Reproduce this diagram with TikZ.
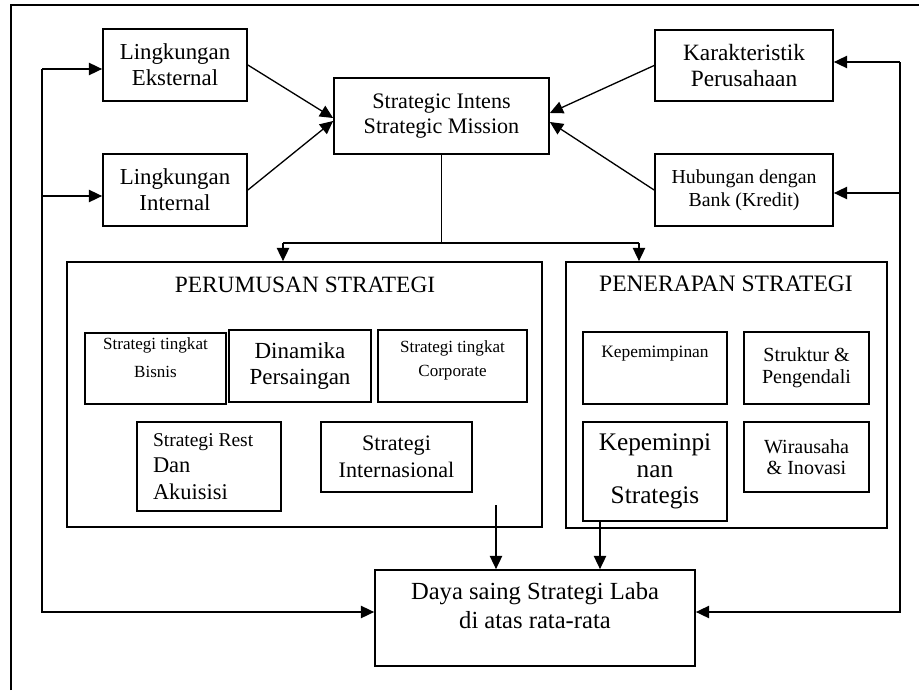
\documentclass[tikz,border=0pt]{standalone}
\usepackage{fontspec}
\setmainfont{Liberation Serif}
\usetikzlibrary{arrows.meta, positioning, calc}

\newcommand{\pxu}{0.02cm}
\newcommand{\fsz}[2]{\fontsize{#1}{#2}\selectfont}
\tikzset{
  box/.style={draw, line width=1pt, inner sep=2pt, align=center},
  link/.style={line width=0.75pt},
  arr/.style={link, -{Triangle[length=7.5pt, width=7pt]}},
}

\begin{document}
\begin{tikzpicture}[x=0.02cm, y=-0.02cm]
\useasboundingbox (0,0) rectangle (919,690);
% frame
\draw[line width=1pt] (11,690) -- (11,5) -- (919,5);

% sources
\node[box, minimum width=144*\pxu, minimum height=72*\pxu, font={\fsz{13}{14.7}}] (eks) at (175,65) {Lingkungan\\Eksternal};
\node[box, minimum width=144*\pxu, minimum height=72*\pxu, font={\fsz{13}{14.7}}] (int) at (175,190) {Lingkungan\\Internal};
\node[box, minimum width=215*\pxu, minimum height=76*\pxu, font={\fsz{12.6}{14.2}}] (strat) at (441.5,116) {Strategic Intens\\Strategic Mission};
\node[box, minimum width=178*\pxu, minimum height=71*\pxu, font={\fsz{13.3}{15.3}}] (kar) at (744,65.5) {Karakteristik\\Perusahaan};
\node[box, minimum width=178*\pxu, minimum height=72*\pxu, font={\fsz{11.3}{13}}] (hub) at (744,190) {Hubungan dengan\\Bank (Kredit)};

% perumusan
\node[box, minimum width=475*\pxu, minimum height=265*\pxu] (rumus) at (304.5,394.5) {};
\node[font={\fsz{13.3}{15}}] (rumusT) at (305,285) {PERUMUSAN STRATEGI};
\node[box, minimum width=141*\pxu, minimum height=71*\pxu, font={\fsz{9.7}{15.5}}] (bisnis) at (155.5,368.5) {Strategi tingkat\\Bisnis\\[-3pt]\mbox{}};
\node[box, minimum width=142*\pxu, minimum height=72*\pxu, font={\fsz{13.1}{14.7}}] (dinamika) at (300,366) {Dinamika\\Persaingan};
\node[box, minimum width=149*\pxu, minimum height=72*\pxu, font={\fsz{9.7}{13.6}}] (corp) at (452.5,366) {Strategi tingkat\\Corporate\\[-5pt]\mbox{}};
\node[box, minimum width=144*\pxu, minimum height=89*\pxu, text width=112*\pxu, align=flush left, font={\fsz{12.8}{15}}] (rest) at (209,466.5) {{\fsz{11.1}{15}Strategi Rest}\\Dan\\Akuisisi};
\node[box, minimum width=151*\pxu, minimum height=70*\pxu, font={\fsz{12.6}{15.3}}] (intl) at (396.5,457) {Strategi\\Internasional};

% penerapan
\node[box, minimum width=321*\pxu, minimum height=266*\pxu] (terap) at (726.5,395) {};
\node[font={\fsz{13.4}{15}}] (terapT) at (726,284) {PENERAPAN STRATEGI};
\node[box, minimum width=144*\pxu, minimum height=72*\pxu, font={\fsz{9.9}{13}}] (pimpin) at (655,368) {Kepemimpinan\\[5pt]\mbox{}};
\node[box, minimum width=125*\pxu, minimum height=72*\pxu, font={\fsz{11.4}{12.3}}] (struk) at (806.5,368) {Struktur \&\\Pengendali};
\node[box, minimum width=144*\pxu, minimum height=99*\pxu, font={\fsz{14.4}{15}}] (pimpinS) at (655,471.5) {Kepeminpi\\nan\\Strategis};
\node[box, minimum width=125*\pxu, minimum height=70*\pxu, font={\fsz{11.4}{12}}] (wira) at (806.5,457) {Wirausaha\\\& Inovasi};

% result
\node[box, minimum width=320*\pxu, minimum height=96*\pxu, font={\fsz{14}{16.4}}] (daya) at (535,618) {Daya saing Strategi Laba\\di atas rata-rata\\[-2.4pt]\mbox{}};

% inputs to mission
\draw[arr] (eks.east) -- ($(strat.west)+(0,2)$);
\draw[arr] (int.east) -- ($(strat.west)+(0,5)$);
\draw[arr] (kar.west) -- ($(strat.east)+(0,-3)$);
\draw[arr] (hub.west) -- ($(strat.east)+(0,6)$);

% split
\coordinate (inR) at (283,243);
\coordinate (inT) at (639,243);
\draw[link] (strat.south) -- (strat.south |- inR);
\draw[link] (inR) -- (inT);
\draw[arr] (inR) -- (inR |- rumus.north);
\draw[arr] (inT) -- (inT |- terap.north);

% to result
\coordinate (outR) at (496,505);
\coordinate (outT) at ($(pimpinS.south)+(-55,0)$);
\draw[arr] (outR) -- (outR |- daya.north);
\draw[arr] (outT) -- (outT |- daya.north);

% feedback
\coordinate (fbL) at (42,69);
\coordinate (fbL2) at (42,196);
\coordinate (fbR) at (900,62);
\coordinate (fbR2) at (900,193);
\draw[arr] (fbL) -- (fbL -| eks.west);
\draw[arr] (fbL2) -- (fbL2 -| int.west);
\draw[arr] (fbL) |- ($(daya.west)+(0,-6)$);
\draw[arr] (fbR) -- (fbR -| kar.east);
\draw[arr] (fbR2) -- (fbR2 -| hub.east);
\draw[arr] (fbR) |- ($(daya.east)+(0,-6)$);
\end{tikzpicture}
\end{document}
